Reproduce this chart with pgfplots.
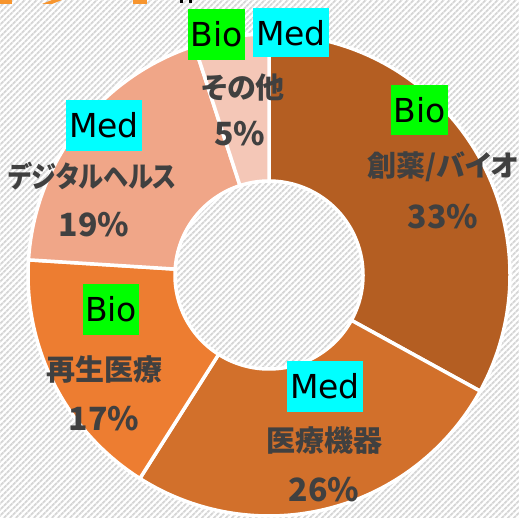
\documentclass[border=0pt]{standalone}
\usepackage{pgfplots}
\pgfplotsset{compat=1.18}
\usepackage{pgfplotstable}
\usetikzlibrary{patterns.meta}
\usepackage{fontspec}
\newfontfamily\jp{Noto Sans CJK JP}[RawFeature=+palt]
\newfontfamily\lat{DejaVu Sans}
\definecolor{c0}{HTML}{B45E22}
\definecolor{c1}{HTML}{D2702B}
\definecolor{c2}{HTML}{ED7D31}
\definecolor{c3}{HTML}{F0A688}
\definecolor{c4}{HTML}{F4C7B7}
\definecolor{txt}{HTML}{404040}
\definecolor{ttl}{HTML}{F7952E}
\definecolor{bgline}{HTML}{D6D6D6}
\definecolor{tagG}{HTML}{00FF00}
\definecolor{tagC}{HTML}{00FFFF}
\pgfplotstableread{
name value
drug 33
device 26
regen 17
digital 19
other 5
}\piedata
\begin{document}
\begin{tikzpicture}
\xdef\cum{0}
\foreach \i in {0,...,4}{
  \pgfplotstablegetelem{\i}{value}\of\piedata
  \pgfmathsetmacro\s{90-3.6*\cum}
  \pgfmathsetmacro\newcum{\cum+\pgfplotsretval}
  \pgfmathsetmacro\e{90-3.6*\newcum}
  \expandafter\xdef\csname aS\i\endcsname{\s}
  \expandafter\xdef\csname aE\i\endcsname{\e}
  \xdef\cum{\newcum}
}
\begin{axis}[hide axis, scale only axis, width=519pt, height=517pt,
  xmin=0, xmax=519, ymin=0, ymax=517, at={(0,0)}, anchor=south west]
\fill[white] (axis cs:0,0) rectangle (axis cs:519,517);
\fill[pattern={Lines[angle=45,distance=4pt,line width=2pt]}, pattern color=bgline] (axis cs:0,0) rectangle (axis cs:519,517);
% title fragments
\fill[ttl] (axis cs:0,513) rectangle (axis cs:12,517);
\fill[ttl] (axis cs:42,513) -- (axis cs:52,517) -- (axis cs:62,517) -- (axis cs:52,513) -- cycle;
\fill[ttl] (axis cs:133,513) rectangle (axis cs:147,517);
\fill[black] (axis cs:180,514) rectangle (axis cs:183,517);
\fill[black] (axis cs:189,514) rectangle (axis cs:192,517);
\pgfplotsinvokeforeach{0,...,4}{
  \filldraw[fill=c#1, draw=white, line width=3.5pt, line join=round]
   (axis cs:269,242) ++(\csname aS#1\endcsname:241pt)
   arc[start angle=\csname aS#1\endcsname, end angle=\csname aE#1\endcsname, radius=241pt]
   -- ++({\csname aE#1\endcsname+180}:147pt)
   arc[start angle=\csname aE#1\endcsname, end angle=\csname aS#1\endcsname, radius=94pt]
   -- cycle;
}
% tag boxes
\tikzset{tag/.style={inner sep=0pt, text=black, font=\lat\fontsize{33}{33}\selectfont}}
\node[tag, fill=tagG, minimum width=57pt, minimum height=51pt] at (axis cs:216.5,482.5) {Bio};
\node[tag, fill=tagC, minimum width=76pt, minimum height=49pt] at (axis cs:291,484) {Med};
\node[tag, fill=tagG, minimum width=57pt, minimum height=50pt] at (axis cs:419.5,407) {Bio};
\node[tag, fill=tagC, minimum width=76pt, minimum height=51pt] at (axis cs:104,391.5) {Med};
\node[tag, fill=tagG, minimum width=56pt, minimum height=51pt] at (axis cs:111,207.5) {Bio};
\node[tag, fill=tagC, minimum width=76pt, minimum height=51pt] at (axis cs:325,130.5) {Med};
% labels
\tikzset{cat/.style={inner sep=0pt, text=txt, font=\jp\bfseries\fontsize{29}{30}\selectfont},
         pct/.style={inner sep=0pt, text=txt, font=\jp\bfseries\fontsize{32}{34}\selectfont}}
\node[cat] at (axis cs:243,429) {その他};
\node[pct] at (axis cs:240,383) {5\%};
\node[cat] at (axis cs:443,350) {創薬/バイオ};
\node[pct] at (axis cs:443,300) {33\%};
\node[cat] at (axis cs:92.5,340.5) {\scalebox{0.87}[1]{デジタルヘルス}};
\node[pct] at (axis cs:94,292) {19\%};
\node[cat] at (axis cs:104.5,147) {再生医療};
\node[pct] at (axis cs:104,98.5) {17\%};
\node[cat] at (axis cs:324.5,76.5) {医療機器};
\node[pct] at (axis cs:324,27) {26\%};
\end{axis}
\pgfresetboundingbox
\useasboundingbox (0,0) rectangle (519pt,517pt);
\end{tikzpicture}
\end{document}
